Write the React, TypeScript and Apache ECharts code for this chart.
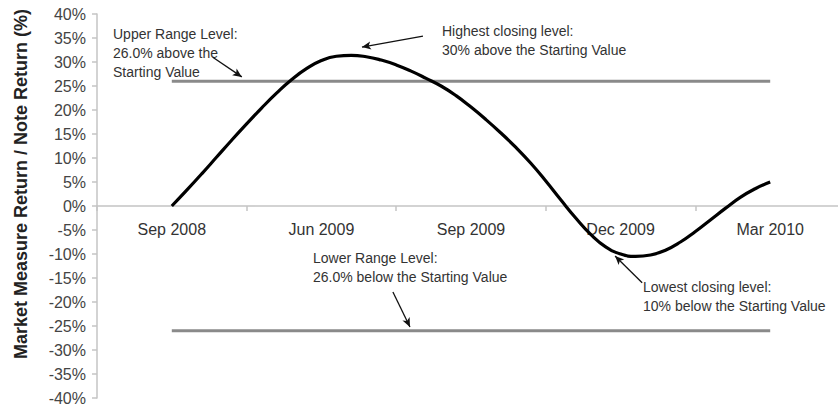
import React, { useEffect, useRef } from "react";
import * as echarts from "echarts";

const categories = ["Sep 2008", "Jun 2009", "Sep 2009", "Dec 2009", "Mar 2010"];

// curve positions in category-slot units (1 = Sep 2008 ... 5 = Mar 2010)
const curveX = [
  1.0, 1.1, 1.2, 1.3, 1.4, 1.5, 1.6, 1.7, 1.8, 1.9,
  2.0, 2.1, 2.2, 2.3, 2.4, 2.5, 2.6, 2.7, 2.8, 2.9,
  3.0, 3.1, 3.2, 3.3, 3.4, 3.5, 3.6, 3.7, 3.8, 3.9,
  4.0, 4.1, 4.2, 4.3, 4.4, 4.5, 4.6, 4.7, 4.8, 4.9, 5.0,
];
const curveY = [
  0, 3.3, 6.7, 10.2, 13.7, 17.1, 20.4, 23.5, 26.3, 28.6,
  30.3, 31.2, 31.4, 31.1, 30.4, 29.4, 28.1, 26.6, 25.0, 23.0,
  20.6, 18.0, 15.2, 12.2, 8.9, 5.2, 1.3, -2.5, -5.9, -8.5,
  -10.0, -10.5, -10.2, -9.2, -7.5, -5.3, -2.9, -0.5, 1.8, 3.6, 5.0,
];

const upperRange = 26;
const lowerRange = -26;
const rangeStart = 1;
const rangeEnd = 5;

const yTicksMin = -40;
const yTicksMax = 40;
const yTicksStep = 5;

const yTitle = "Market Measure Return / Note Return (%)";
const upperText = "Upper Range Level:\n26.0% above the\nStarting Value";
const highestText = "Highest closing level:\n30% above the Starting Value";
const lowerText = "Lower Range Level:\n26.0% below the Starting Value";
const lowestText = "Lowest closing level:\n10% below the Starting Value";

// arrows: [fromX, fromY, toX, toY] in data units
const arrowUpper = [1.274, 31.0, 1.468, 26.9];
const arrowHighest = [2.679, 35.4, 2.271, 33.1];
const arrowLower = [2.478, -17.9, 2.592, -25.2];
const arrowLowest = [4.144, -16.0, 3.963, -10.4];

const FONT = "'Liberation Sans', Arial, Helvetica, sans-serif";

export default function App() {
  const ref = useRef<HTMLDivElement>(null);
  useEffect(() => {
    if (!ref.current) return;
    const chart = echarts.init(ref.current, undefined, { renderer: "svg" });
    const arrow = (a: number[]) => [
      { coord: [a[0], a[1]] },
      { coord: [a[2], a[3]] },
    ];
    const textStyle = (text: string, x: number, y: number) => ({
      type: "text",
      x,
      y,
      style: {
        text,
        fontSize: 14,
        fontFamily: FONT,
        fill: "#333",
        lineHeight: 19,
        align: "left",
        verticalAlign: "top",
      },
    });
    chart.setOption({
      animation: false,
      grid: { left: 97, right: -7, top: 14, bottom: 10, containLabel: false, outerBoundsMode: "none" },
      xAxis: [
        {
          type: "category",
          data: categories,
          boundaryGap: true,
          position: "bottom",
          offset: -192,
          axisLine: { onZero: false, lineStyle: { color: "#c4c4c4", width: 1.5 } },
          axisTick: { show: true, length: 5, lineStyle: { color: "#c4c4c4", width: 1.5 } },
          axisLabel: { fontSize: 16, color: "#333", fontFamily: FONT, margin: 15 },
          splitLine: { show: false },
        },
        {
          type: "value",
          min: 0.5,
          max: 5.5,
          show: false,
          position: "top",
          axisLine: { onZero: false },
          splitLine: { show: false },
        },
      ],
      yAxis: {
        type: "value",
        min: yTicksMin,
        max: yTicksMax,
        interval: yTicksStep,
        axisLine: { show: true, onZero: false, lineStyle: { color: "#c4c4c4", width: 1.5 } },
        axisTick: { show: true, length: 5, lineStyle: { color: "#c4c4c4", width: 1.5 } },
        axisLabel: { formatter: "{value}%", fontSize: 16, color: "#444", fontFamily: FONT, margin: 11 },
        splitLine: { show: false },
      },
      series: [
        {
          type: "line",
          xAxisIndex: 1,
          data: [
            [rangeStart, upperRange],
            [rangeEnd, upperRange],
          ],
          symbol: "none",
          lineStyle: { color: "#8a8a8a", width: 3 },
          silent: true,
        },
        {
          type: "line",
          xAxisIndex: 1,
          data: [
            [rangeStart, lowerRange],
            [rangeEnd, lowerRange],
          ],
          symbol: "none",
          lineStyle: { color: "#8a8a8a", width: 3 },
          silent: true,
        },
        {
          type: "line",
          xAxisIndex: 1,
          data: curveX.map((x, i) => [x, curveY[i]]),
          smooth: 0.5,
          symbol: "none",
          lineStyle: { color: "#000", width: 3.2 },
          silent: true,
          markLine: {
            silent: true,
            symbol: ["none", "arrow"],
            symbolSize: [6, 9],
            label: { show: false },
            lineStyle: { color: "#111", width: 1.3, type: "solid" },
            data: [arrow(arrowUpper), arrow(arrowHighest), arrow(arrowLower), arrow(arrowLowest)],
          },
        },
      ],
      graphic: [
        {
          type: "text",
          x: 21,
          y: 184,
          rotation: Math.PI / 2,
          style: {
            text: yTitle,
            fontSize: 18,
            fontWeight: "bold",
            fontFamily: FONT,
            fill: "#222",
            align: "center",
            verticalAlign: "middle",
          },
        },
        textStyle(upperText, 113, 24),
        textStyle(highestText, 442, 21),
        textStyle(lowerText, 313, 248),
        textStyle(lowestText, 643, 277),
      ],
    });
    return () => chart.dispose();
  }, []);
  return (
    <div
      ref={ref}
      style={{ position: "fixed", left: 0, top: 0, width: 838, height: 408, background: "#fff" }}
    />
  );
}
